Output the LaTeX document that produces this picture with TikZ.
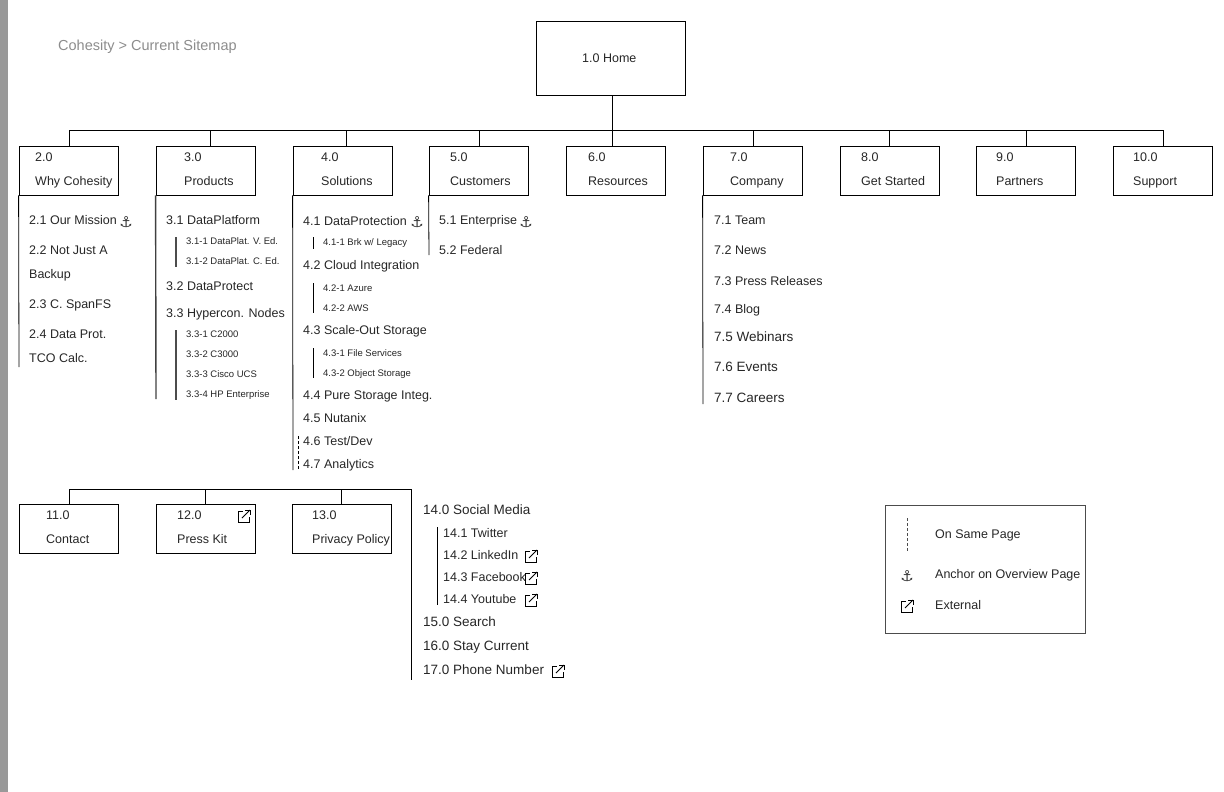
\documentclass[tikz,border=0pt]{standalone}
\usepackage{fontspec}
\setmainfont{Liberation Sans}
\newfontfamily\djv{DejaVu Sans}
\begin{document}
\begin{tikzpicture}[x=1pt,y=-1pt,
  t/.style={anchor=west,inner sep=0pt,text height=9pt,text depth=2.5pt,font=\fontsize{12.5}{12.5}\selectfont,text=black!85},
  tl/.style={t,font=\fontsize{13.5}{13.5}\selectfont},
  ts/.style={anchor=west,inner sep=0pt,text height=7pt,text depth=2pt,font=\fontsize{9.5}{9.5}\selectfont,text=black!85},
  bx/.style={draw,line width=0.8pt,inner sep=0pt},
  ln/.style={line width=0.8pt},
  anc/.style={inner sep=0pt,font=\djv\fontsize{15}{15}\selectfont,text=black!80},
  extic/.pic={\draw[line width=0.9pt] (-1,-5) -- (-6,-5) -- (-6,6) -- (5,6) -- (5,1);
     \draw[line width=0.9pt] (-2,2) -- (6,-6); \draw[line width=0.9pt] (1,-6) -- (6,-6) -- (6,-1);}
]
\useasboundingbox (0,0) rectangle (1224,792);
\fill[black!40] (0,0) rectangle (8,792);
\node[t,text=black!45,font=\fontsize{14.5}{14.5}\selectfont] (title) at (58,47) {Cohesity > Current Sitemap};
% home
\node[bx,minimum width=149,minimum height=74] (home) at (610.5,58) {};
\node[t] (homet) at (582,59) {1.0 Home};
\coordinate (hb) at (612,130);
\draw[ln] (home.south -| hb) -- (hb);
\draw[ln] (69,130) coordinate (hl) -- (1163,130) coordinate (hr);
% top boxes
\foreach \n/\bx/\tx/\num/\lab in {b2/19/35/2.0/Why Cohesity, b3/156/184/3.0/Products, b4/293/321/4.0/Solutions, b5/429/450/5.0/Customers, b6/566/588/6.0/Resources, b7/703/730/7.0/Company, b8/840/861/8.0/Get Started, b9/976/996/9.0/Partners, b10/1113/1133/10.0/Support}{
  \node[bx,minimum width=99,minimum height=49] (\n) at (\bx+49.5,170.5) {};
  \node[t] at (\tx,158) {\num};
  \node[t] at (\tx,182) {\lab};
}
\foreach \n/\xx in {b2/69,b3/210,b4/346,b5/479,b6/612,b7/753,b8/889,b9/1026,b10/1163}
  \draw[ln] (\xx,130) -- (\xx,146);
% column 2
\draw[ln] (b2.south west) -- (19,367);
\node[t] at (29,221) {2.1 Our Mission};
\node[anc] at (126,222) {⚓};
\node[t] at (29,251) {2.2 Not Just A};
\node[t] at (29,275) {Backup};
\node[t] at (29,305) {2.3 C. SpanFS};
\node[t] at (29,335) {2.4 Data Prot.};
\node[t] at (29,359) {TCO Calc.};
% column 3
\draw[line width=1.4pt,black!75] (b3.south west) -- (156,399);
\node[t] at (166,221) {3.1 DataPlatform};
\draw[line width=1.2pt,black!70] (176,237) -- (176,267);
\node[ts] at (186,242) {3.1-1 DataPlat. V. Ed.};
\node[ts] at (186,262) {3.1-2 DataPlat. C. Ed.};
\node[t] at (166,287) {3.2 DataProtect};
\node[t] at (166,314) {3.3 Hypercon. Nodes};
\draw[line width=1.2pt,black!70] (176,330) -- (176,400);
\node[ts] at (186,335) {3.3-1 C2000};
\node[ts] at (186,355) {3.3-2 C3000};
\node[ts] at (186,375) {3.3-3 Cisco UCS};
\node[ts] at (186,395) {3.3-4 HP Enterprise};
% column 4
\draw[ln] (b4.south west) -- (293,470);
\draw[ln,dashed,dash pattern=on 3pt off 2pt] (298,436) -- (298,470);
\node[t] at (303,222) {4.1 DataProtection};
\node[anc] at (417,222) {⚓};
\draw[ln] (313,237) -- (313,249);
\node[ts] at (323,243) {4.1-1 Brk w/ Legacy};
\node[t] at (303,266) {4.2 Cloud Integration};
\draw[ln] (313,283) -- (313,313);
\node[ts] at (323,289) {4.2-1 Azure};
\node[ts] at (323,309) {4.2-2 AWS};
\node[t] at (303,331) {4.3 Scale-Out Storage};
\draw[ln] (313,348) -- (313,378);
\node[ts] at (323,354) {4.3-1 File Services};
\node[ts] at (323,374) {4.3-2 Object Storage};
\node[t] at (303,396) {4.4 Pure Storage Integ.};
\node[t] at (303,419) {4.5 Nutanix};
\node[t] at (303,442) {4.6 Test/Dev};
\node[t] at (303,465) {4.7 Analytics};
% column 5
\draw[ln] (b5.south west) -- (429,255);
\node[t] at (439,221) {5.1 Enterprise};
\node[anc] at (526,222) {⚓};
\node[t] at (439,251) {5.2 Federal};
% column 7
\draw[ln] (b7.south west) -- (703,404);
\node[t] at (714,221) {7.1 Team};
\node[t] at (714,251) {7.2 News};
\node[t] at (714,282) {7.3 Press Releases};
\node[t] at (714,310) {7.4 Blog};
\node[tl] at (714,338) {7.5 Webinars};
\node[tl] at (714,368) {7.6 Events};
\node[tl] at (714,399) {7.7 Careers};
% bottom
\draw[ln] (69,489) -- (411,489) -- (411,680);
\foreach \n/\bx/\tx/\num/\lab in {b11/19/46/11.0/Contact, b12/156/177/12.0/Press Kit, b13/292/312/13.0/Privacy Policy}{
  \node[bx,minimum width=99,minimum height=49] (\n) at (\bx+49.5,528.5) {};
  \node[t] at (\tx,516) {\num};
  \node[t] at (\tx,540) {\lab};
}
\foreach \n/\xx in {b11/69,b12/205,b13/341} \draw[ln] (\xx,489) -- (\n.north -| \xx,504);
\pic at (244,516) {extic};
\node[tl] at (423,511) {14.0 Social Media};
\draw[ln] (437,527) -- (437,605);
\node[t] at (443,534) {14.1 Twitter};
\node[t] at (443,556) {14.2 LinkedIn};
\pic at (531,556) {extic};
\node[t] at (443,578) {14.3 Facebook};
\pic at (531,578) {extic};
\node[t] at (443,600) {14.4 Youtube};
\pic at (531,600) {extic};
\node[tl] at (423,623) {15.0 Search};
\node[tl] at (423,647) {16.0 Stay Current};
\node[tl] at (423,671) {17.0 Phone Number};
\pic at (558,671) {extic};
% legend
\node[draw=black!70,line width=0.8pt,minimum width=200,minimum height=128,inner sep=0pt] (leg) at (985,569) {};
\draw[ln,black!70,dashed,dash pattern=on 3pt off 2pt] (907,518) -- (907,552);
\node[t] at (935,535) {On Same Page};
\node[anc] at (907,576) {⚓};
\node[t] at (935,575) {Anchor on Overview Page};
\pic at (907,606) {extic};
\node[t] at (935,606) {External};
\end{tikzpicture}
\end{document}
